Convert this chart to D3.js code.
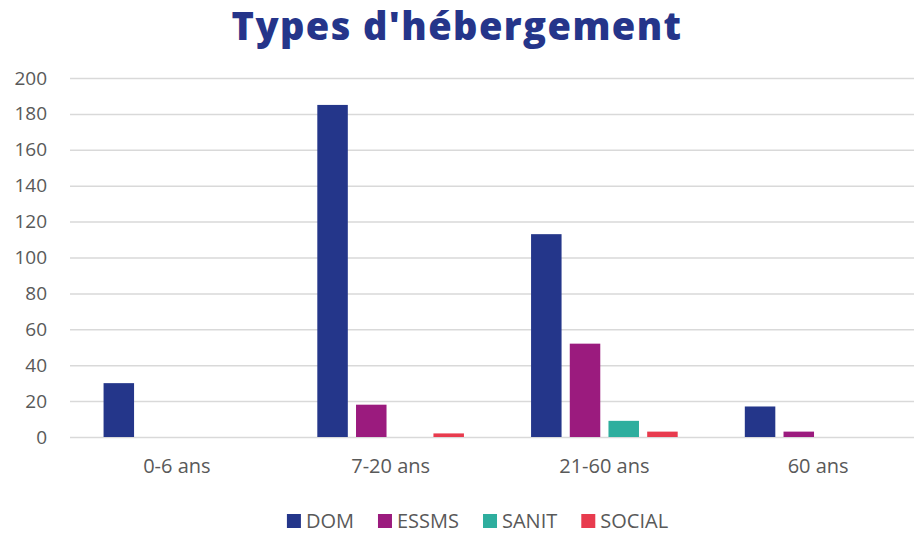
<!DOCTYPE html>
<html><head><meta charset="utf-8">
<script src="https://cdn.jsdelivr.net/npm/d3@7"></script>
<style>body{margin:0;background:#fff;overflow:hidden}svg{display:block}</style>
</head><body>
<script>
const categories = ["0-6 ans", "7-20 ans", "21-60 ans", "60 ans"];
const seriesNames = ["DOM", "ESSMS", "SANIT", "SOCIAL"];
const DOM = [30, 185, 113, 17];
const ESSMS = [0, 18, 52, 3];
const SANIT = [0, 0, 9, 0];
const SOCIAL = [0, 2, 3, 0];
const yTicks = [0, 20, 40, 60, 80, 100, 120, 140, 160, 180, 200];
const colors = ["#24368A", "#9B1B7E", "#2EAE9E", "#E83B4E"];
const seriesValues = [DOM, ESSMS, SANIT, SOCIAL];

const W = 914, H = 533;
const m = {left: 70, right: -11, top: 78, bottom: 96};
const svg = d3.select("body").append("svg").attr("width", W).attr("height", H);

svg.append("text").attr("x", 457).attr("y", 40).attr("text-anchor", "middle")
  .attr("font-family", "'Open Sans', sans-serif").attr("font-weight", 800)
  .attr("font-size", 38).attr("letter-spacing", 1.4).attr("fill", "#25358A").text("Types d'hébergement");

const x0 = d3.scaleBand().domain(categories).range([m.left, W - m.right]);
const x1 = d3.scaleBand().domain(seriesNames).range([0, x0.bandwidth()])
  .paddingInner(0.212).paddingOuter(0.867);
const y = d3.scaleLinear().domain([0, 200]).range([H - m.bottom, m.top]);

const yAxis = d3.axisLeft(y).tickValues(yTicks).tickSize(-(W - m.left - m.right)).tickPadding(23);
const gy = svg.append("g").attr("transform", `translate(${m.left},0)`).call(yAxis);
gy.select(".domain").remove();
gy.selectAll(".tick line").attr("stroke", "#D9D9D9").attr("stroke-width", 1.5);
gy.selectAll(".tick text").attr("font-family", "'Open Sans', sans-serif").attr("font-size", 19).attr("fill", "#595959");

const xAxis = d3.axisBottom(x0).tickSize(0).tickPadding(22);
const gx = svg.append("g").attr("transform", `translate(0,${H - m.bottom})`).call(xAxis);
gx.select(".domain").remove();
gx.selectAll(".tick text").attr("font-family", "'Open Sans', sans-serif").attr("font-size", 20).attr("fill", "#595959");

const groups = svg.append("g").selectAll("g").data(categories).join("g")
  .attr("transform", d => `translate(${x0(d)},0)`);
groups.selectAll("rect").data((c, i) => seriesNames.map((s, j) => ({s, v: seriesValues[j][i], j})))
  .join("rect")
  .attr("x", d => x1(d.s)).attr("width", x1.bandwidth())
  .attr("y", d => y(d.v)).attr("height", d => y(0) - y(d.v))
  .attr("fill", d => colors[d.j]);

// legend
const leg = svg.append("g");
let lx = 0;
const gap = 24;
const items = leg.selectAll("g").data(seriesNames).join("g");
items.append("rect").attr("width", 14).attr("height", 14).attr("y", -7).attr("fill", (d, i) => colors[i]);
items.append("text").attr("x", 19).attr("y", 7)
  .attr("font-family", "'Open Sans', sans-serif").attr("font-size", 20).attr("fill", "#595959").text(d => d);
items.each(function() {
  const w = this.getBBox().width;
  d3.select(this).attr("transform", `translate(${lx},0)`);
  lx += w + gap;
});
const total = lx - gap;
leg.attr("transform", `translate(${477.5 - total / 2},521)`);
</script>
</body></html>
